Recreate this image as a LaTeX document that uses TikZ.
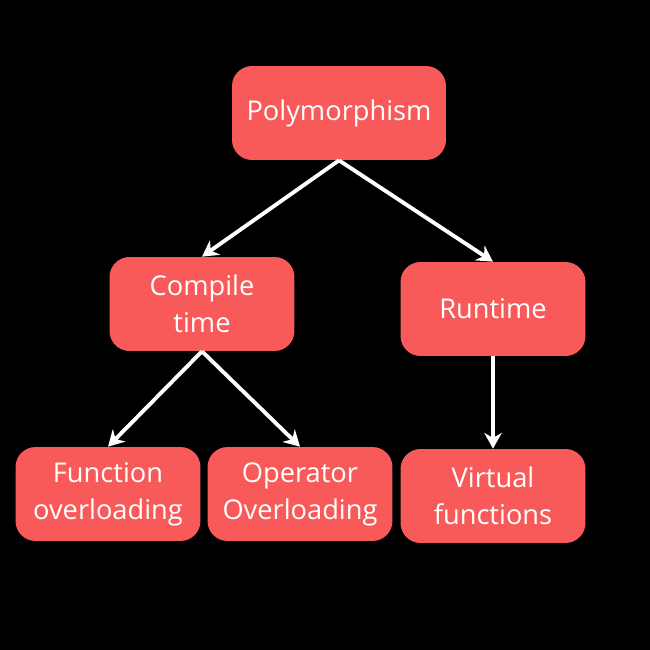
\documentclass[tikz,border=0pt]{standalone}
\usepackage{fontspec}
\setmainfont{Open Sans}
\usetikzlibrary{arrows.meta}
\definecolor{boxred}{HTML}{F85A5A}
\begin{document}
\begin{tikzpicture}[x=0.02cm,y=-0.02cm,
  box/.style={fill=boxred,rounded corners=0.4cm,minimum width=3.7cm,minimum height=1.88cm,
    text=white,font=\fontsize{15.5}{21}\selectfont,align=center,inner sep=0pt},
  arr/.style={draw=white,line width=2.2pt,-{Stealth[length=9pt,width=10pt]}}]
\fill[black] (0,0) rectangle (650,650);
\node[box,minimum width=4.28cm] (p) at (339,113) {Polymorphism};
\node[box] (c) at (202,304) {Compile\\time};
\node[box] (r) at (493,309) {Runtime};
\node[box] (f) at (108,494) {Function\\overloading};
\node[box] (o) at (300,494) {Operator\\Overloading};
\node[box] (v) at (493,496) {Virtual\\functions};
\draw[arr] (p.south) -- (c.north);
\draw[arr] (p.south) -- (r.north);
\draw[arr] (c.south) -- (f.north);
\draw[arr] (c.south) -- (o.north);
\draw[arr] (r.south) -- (v.north);
\end{tikzpicture}
\end{document}
